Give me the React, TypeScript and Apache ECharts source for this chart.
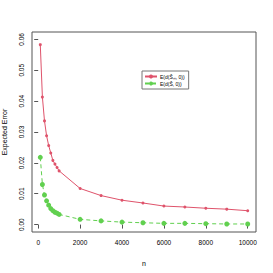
import React, { useEffect, useRef } from "react";
import * as echarts from "echarts";

const nValues = [100, 200, 300, 400, 500, 600, 700, 800, 900, 1000, 2000, 3000, 4000, 5000, 6000, 7000, 8000, 9000, 10000];
const errMS = [0.0583, 0.0413, 0.0336, 0.0288, 0.0256, 0.0232, 0.0208, 0.0196, 0.0185, 0.0174, 0.0117, 0.0094, 0.0079, 0.0070, 0.0060, 0.0057, 0.0053, 0.0050, 0.0045];
const errS = [0.0218, 0.0130, 0.0096, 0.0077, 0.0063, 0.0052, 0.0045, 0.0040, 0.0037, 0.0033, 0.0017, 0.0012, 0.0008, 0.0006, 0.0004, 0.0004, 0.0003, 0.0002, 0.0002];
const xTicks = [0, 2000, 4000, 6000, 8000, 10000];
const yTicks = [0, 0.01, 0.02, 0.03, 0.04, 0.05, 0.06];
const seriesNames = ["E(d(Ŝₘ, 0))", "E(d(Ŝ, 0))"];

const FONT = "Liberation Sans, Arial, sans-serif";

export default function App() {
  const ref = useRef<HTMLDivElement>(null);
  useEffect(() => {
    if (!ref.current) return;
    const chart = echarts.init(ref.current, undefined, { renderer: "svg" });
    chart.setOption({
      animation: false,
      backgroundColor: "#ffffff",
      grid: {
        left: 32,
        right: 17,
        top: 32,
        bottom: 41,
        show: true,
        borderColor: "#555555",
        borderWidth: 1,
        containLabel: false,
        outerBoundsMode: "none",
      },
      legend: {
        left: 142,
        top: 71,
        orient: "vertical",
        itemWidth: 12,
        itemHeight: 5,
        itemGap: 2,
        padding: [3, 4, 3, 2],
        borderColor: "#777777",
        borderWidth: 1,
        textStyle: { fontSize: 5, fontFamily: FONT, color: "#000", padding: [0, 0, 0, -2] },
        data: seriesNames,
      },
      xAxis: {
        type: "value",
        min: -296,
        max: 10396,
        name: "n",
        nameLocation: "middle",
        nameGap: 28,
        nameTextStyle: { fontSize: 7, fontFamily: FONT, color: "#000000" },
        axisLine: { show: false },
        splitLine: { show: false },
        axisTick: { show: true, length: 4, lineStyle: { color: "#555" }, customValues: xTicks },
        axisLabel: {
          fontSize: 6.5,
          fontFamily: FONT,
          color: "#000",
          margin: 7,
          customValues: xTicks,
          formatter: (v: number) => String(v),
        },
      },
      yAxis: {
        type: "value",
        min: -0.0024,
        max: 0.0624,
        name: "Expected Error",
        nameLocation: "middle",
        nameGap: 24,
        nameTextStyle: { fontSize: 7, fontFamily: FONT, color: "#000" },
        axisLine: { show: false },
        splitLine: { show: false },
        axisTick: { show: true, length: 4, lineStyle: { color: "#555" }, customValues: yTicks },
        axisLabel: {
          fontSize: 6.5,
          fontFamily: FONT,
          color: "#000",
          margin: 7,
          rotate: 90,
          customValues: yTicks,
          formatter: (v: number) => v.toFixed(2),
        },
      },
      series: [
        {
          name: seriesNames[0],
          type: "line",
          data: nValues.map((n, i) => [n, errMS[i]]),
          symbol: "circle",
          symbolSize: 3,
          itemStyle: { color: "#DF536B" },
          lineStyle: { color: "#DF536B", width: 1 },
        },
        {
          name: seriesNames[1],
          type: "line",
          data: nValues.map((n, i) => [n, errS[i]]),
          symbol: "circle",
          symbolSize: 5,
          itemStyle: { color: "#61D04F" },
          lineStyle: { color: "#61D04F", width: 1, type: [4, 3] },
        },
      ],
    });
    return () => chart.dispose();
  }, []);
  return <div ref={ref} style={{ width: 273, height: 273, position: "absolute", left: 0, top: 0 }} />;
}
